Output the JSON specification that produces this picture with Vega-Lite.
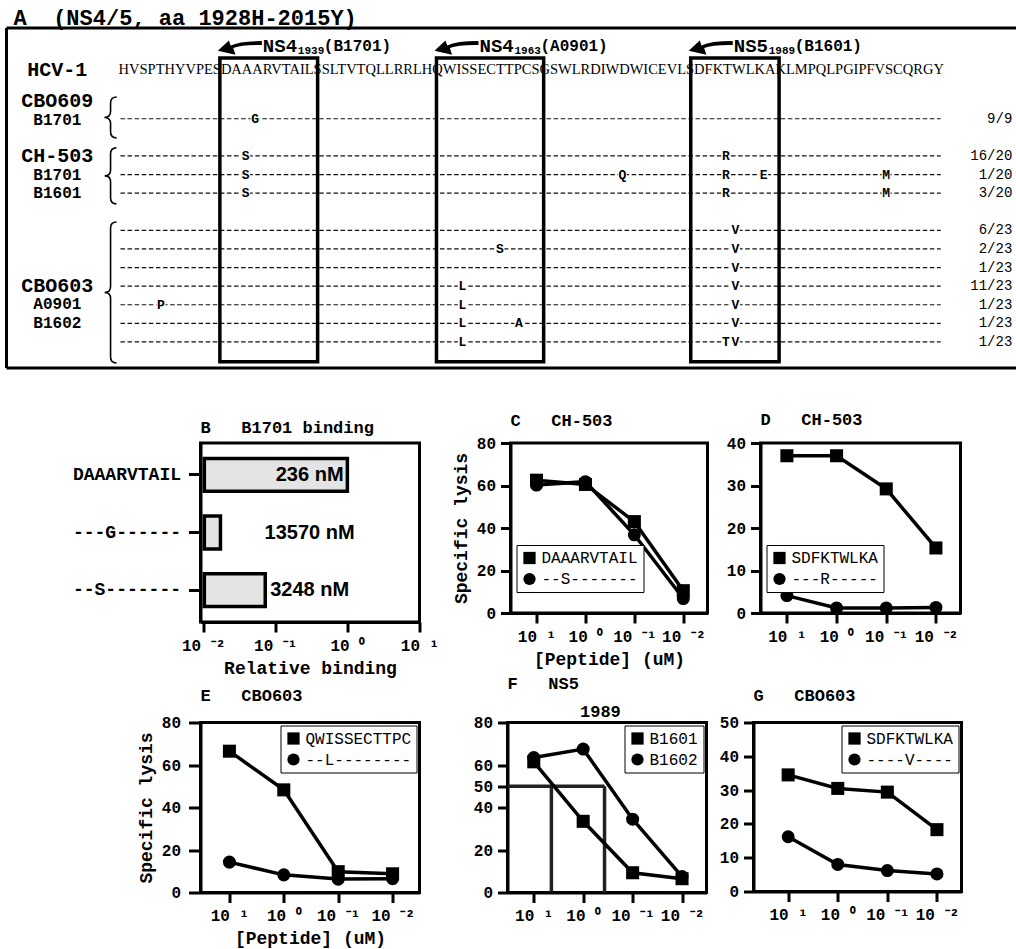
{
"$schema": "https://vega.github.io/schema/vega-lite/v6.json",
"background": "white",
"padding": {"left": 4.5, "top": 7, "right": 0, "bottom": 0},
"config": {
 "font": "Liberation Mono",
 "view": {"stroke": "black", "strokeWidth": 3},
 "axis": {"domainColor": "black", "domainWidth": 3, "tickColor": "black", "tickWidth": 3, "tickSize": 10, "labelFont": "Liberation Mono", "labelFontWeight": "bold", "labelFontSize": 16, "labelColor": "black", "labelPadding": 5, "titleFont": "Liberation Mono", "titleFontWeight": "bold", "titleFontSize": 18, "titleColor": "black", "titlePadding": 6, "grid": false, "labelFlush": false, "labelOverlap": false, "labelBound": false},
 "title": {"anchor": "start", "frame": "group", "font": "Liberation Mono", "fontWeight": "bold", "fontSize": 17, "color": "black", "offset": 6},
 "legend": {"strokeColor": "black", "fillColor": "white", "padding": 5, "labelFont": "Liberation Mono", "labelFontSize": 16, "labelColor": "black", "symbolSize": 150, "symbolStrokeWidth": 0, "rowPadding": 5, "offset": 3}
},
"datasets": {
 "seq": [{"strain": "HCV-1", "seq": "HVSPTHYVPESDAAARVTAILSSLTVTQLLRRLHQWISSECTTPCSGSWLRDIWDWICEVLSDFKTWLKAKLMPQLPGIPFVSCQRGY"}],
 "epitopes": [
  {"protein": "NS4", "number": "1939", "hla": "(B1701)", "first": 1939, "last": 1948},
  {"protein": "NS4", "number": "1963", "hla": "(A0901)", "first": 1962, "last": 1972},
  {"protein": "NS5", "number": "1989", "hla": "(B1601)", "first": 1989, "last": 1997}
 ],
 "variants": [
  {"row": 1, "freq": "9/9"}, {"row": 3, "freq": "16/20"}, {"row": 4, "freq": "1/20"}, {"row": 5, "freq": "3/20"},
  {"row": 7, "freq": "6/23"}, {"row": 8, "freq": "2/23"}, {"row": 9, "freq": "1/23"}, {"row": 10, "freq": "11/23"},
  {"row": 11, "freq": "1/23"}, {"row": 12, "freq": "1/23"}, {"row": 13, "freq": "1/23"}
 ],
 "mutations": [
  {"row": 1, "res": 1942, "aa": "G"},
  {"row": 3, "res": 1941, "aa": "S"}, {"row": 3, "res": 1992, "aa": "R"},
  {"row": 4, "res": 1941, "aa": "S"}, {"row": 4, "res": 1981, "aa": "Q"}, {"row": 4, "res": 1992, "aa": "R"}, {"row": 4, "res": 1996, "aa": "E"}, {"row": 4, "res": 2009, "aa": "M"},
  {"row": 5, "res": 1941, "aa": "S"}, {"row": 5, "res": 1992, "aa": "R"}, {"row": 5, "res": 2009, "aa": "M"},
  {"row": 7, "res": 1993, "aa": "V"},
  {"row": 8, "res": 1968, "aa": "S"}, {"row": 8, "res": 1993, "aa": "V"},
  {"row": 9, "res": 1993, "aa": "V"},
  {"row": 10, "res": 1964, "aa": "L"}, {"row": 10, "res": 1993, "aa": "V"},
  {"row": 11, "res": 1932, "aa": "P"}, {"row": 11, "res": 1964, "aa": "L"}, {"row": 11, "res": 1993, "aa": "V"},
  {"row": 12, "res": 1964, "aa": "L"}, {"row": 12, "res": 1970, "aa": "A"}, {"row": 12, "res": 1993, "aa": "V"},
  {"row": 13, "res": 1964, "aa": "L"}, {"row": 13, "res": 1992, "aa": "T"}, {"row": 13, "res": 1993, "aa": "V"}
 ],
 "patients": [{"patient": "CBO609", "row": 0.05}, {"patient": "CH-503", "row": 3}, {"patient": "CBO603", "row": 10}],
 "alleles": [{"allele": "B1701", "row": 1.05}, {"allele": "B1701", "row": 4}, {"allele": "B1601", "row": 5}, {"allele": "A0901", "row": 10.98}, {"allele": "B1602", "row": 11.98}],
 "binding": [
  {"peptide": "DAAARVTAIL", "binding": 1, "label": "236 nM"},
  {"peptide": "---G------", "binding": 0.0174, "label": "13570 nM"},
  {"peptide": "--S-------", "binding": 0.0727, "label": "3248 nM"}
 ],
 "C": [
  {"series": "DAAARVTAIL", "conc": 10, "lysis": 62.5}, {"series": "DAAARVTAIL", "conc": 1, "lysis": 60.5}, {"series": "DAAARVTAIL", "conc": 0.1, "lysis": 43}, {"series": "DAAARVTAIL", "conc": 0.01, "lysis": 10.5},
  {"series": "--S-------", "conc": 10, "lysis": 60.2}, {"series": "--S-------", "conc": 1, "lysis": 61.8}, {"series": "--S-------", "conc": 0.1, "lysis": 36.8}, {"series": "--S-------", "conc": 0.01, "lysis": 6.8}
 ],
 "D": [
  {"series": "SDFKTWLKA", "conc": 10, "lysis": 37}, {"series": "SDFKTWLKA", "conc": 1, "lysis": 37}, {"series": "SDFKTWLKA", "conc": 0.1, "lysis": 29.2}, {"series": "SDFKTWLKA", "conc": 0.01, "lysis": 15.3},
  {"series": "---R-----", "conc": 10, "lysis": 4.1}, {"series": "---R-----", "conc": 1, "lysis": 1.2}, {"series": "---R-----", "conc": 0.1, "lysis": 1.2}, {"series": "---R-----", "conc": 0.01, "lysis": 1.3}
 ],
 "E": [
  {"series": "QWISSECTTPC", "conc": 10, "lysis": 66.5}, {"series": "QWISSECTTPC", "conc": 1, "lysis": 48.3}, {"series": "QWISSECTTPC", "conc": 0.1, "lysis": 9.8}, {"series": "QWISSECTTPC", "conc": 0.01, "lysis": 8.8},
  {"series": "--L--------", "conc": 10, "lysis": 14.3}, {"series": "--L--------", "conc": 1, "lysis": 8.3}, {"series": "--L--------", "conc": 0.1, "lysis": 6.3}, {"series": "--L--------", "conc": 0.01, "lysis": 6.5}
 ],
 "F": [
  {"series": "B1601", "conc": 10, "lysis": 61.5}, {"series": "B1601", "conc": 1, "lysis": 33.5}, {"series": "B1601", "conc": 0.1, "lysis": 9.3}, {"series": "B1601", "conc": 0.01, "lysis": 6.5},
  {"series": "B1602", "conc": 10, "lysis": 63.5}, {"series": "B1602", "conc": 1, "lysis": 67.5}, {"series": "B1602", "conc": 0.1, "lysis": 34.5}, {"series": "B1602", "conc": 0.01, "lysis": 7.5}
 ],
 "G": [
  {"series": "SDFKTWLKA", "conc": 10, "lysis": 34.5}, {"series": "SDFKTWLKA", "conc": 1, "lysis": 30.5}, {"series": "SDFKTWLKA", "conc": 0.1, "lysis": 29.4}, {"series": "SDFKTWLKA", "conc": 0.01, "lysis": 18.3},
  {"series": "----V----", "conc": 10, "lysis": 16.2}, {"series": "----V----", "conc": 1, "lysis": 8}, {"series": "----V----", "conc": 0.1, "lysis": 6.2}, {"series": "----V----", "conc": 0.01, "lysis": 5.2}
 ],
 "ic50": [{"series": "B1601", "conc": 4.4, "lysis": 50}, {"series": "B1602", "conc": 0.37, "lysis": 50}],
 "sub": [{"epitope": "NS5", "number": "1989"}]
},
"bounds": "flush",
"spacing": 75,
"resolve": {"scale": {"shape": "independent"}, "legend": {"shape": "independent"}},
"vconcat": [
 {
  "width": 760, "height": 340,
  "view": {"stroke": null},
  "layer": [
   {"data": {"name": "seq"}, "mark": {"type": "rule", "color": "black", "strokeWidth": 3},
    "encoding": {"x": {"datum": 1915.6, "type": "quantitative", "scale": {"domain": [1936.2, 2016.9], "nice": false, "zero": false}, "axis": null}, "x2": {"datum": 2022.8},
                 "y": {"datum": -3.88, "type": "quantitative", "scale": {"domain": [-3.88, 14.4], "reverse": true, "nice": false, "zero": false}, "axis": null}}},
   {"data": {"name": "seq"}, "mark": {"type": "rule", "color": "black", "strokeWidth": 3},
    "encoding": {"x": {"datum": 1915.6, "type": "quantitative", "scale": {"domain": [1936.2, 2016.9], "nice": false, "zero": false}, "axis": null}, "x2": {"datum": 2022.8},
                 "y": {"datum": 14.4, "type": "quantitative", "scale": {"domain": [-3.88, 14.4], "reverse": true, "nice": false, "zero": false}, "axis": null}}},
   {"data": {"name": "seq"}, "mark": {"type": "rule", "color": "black", "strokeWidth": 3},
    "encoding": {"x": {"datum": 1915.6, "type": "quantitative", "scale": {"domain": [1936.2, 2016.9], "nice": false, "zero": false}, "axis": null},
                 "y": {"datum": -3.88, "type": "quantitative", "scale": {"domain": [-3.88, 14.4], "reverse": true, "nice": false, "zero": false}, "axis": null}, "y2": {"datum": 14.4}}},
   {"data": {"name": "variants"}, "mark": {"type": "rule", "color": "#111111", "strokeWidth": 1.2, "strokeDash": [4.5, 2.6]},
    "encoding": {"x": {"datum": 1927.7, "type": "quantitative", "scale": {"domain": [1936.2, 2016.9], "nice": false, "zero": false}, "axis": null}, "x2": {"datum": 2014.8},
                 "y": {"field": "row", "type": "quantitative", "scale": {"domain": [-3.88, 14.4], "reverse": true, "nice": false, "zero": false}, "axis": null}}},
   {"data": {"name": "mutations"}, "mark": {"type": "point", "shape": "square", "filled": true, "color": "white", "opacity": 1, "size": 80},
    "encoding": {"x": {"field": "res", "type": "quantitative", "scale": {"domain": [1936.2, 2016.9], "nice": false, "zero": false}, "axis": null},
                 "y": {"field": "row", "type": "quantitative", "scale": {"domain": [-3.88, 14.4], "reverse": true, "nice": false, "zero": false}, "axis": null}}},
   {"data": {"name": "mutations"}, "mark": {"type": "text", "font": "Liberation Mono", "fontWeight": "bold", "fontSize": 13, "color": "black", "baseline": "middle", "align": "center"},
    "encoding": {"x": {"field": "res", "type": "quantitative", "scale": {"domain": [1936.2, 2016.9], "nice": false, "zero": false}, "axis": null},
                 "y": {"field": "row", "type": "quantitative", "scale": {"domain": [-3.88, 14.4], "reverse": true, "nice": false, "zero": false}, "axis": null},
                 "text": {"field": "aa"}}},
   {"data": {"name": "epitopes"}, "mark": {"type": "rect", "fillOpacity": 0, "stroke": "black", "strokeWidth": 3.5, "xOffset": -7, "x2Offset": 6},
    "encoding": {"x": {"field": "first", "type": "quantitative", "scale": {"domain": [1936.2, 2016.9], "nice": false, "zero": false}, "axis": null}, "x2": {"field": "last"},
                 "y": {"datum": -2.27, "type": "quantitative", "scale": {"domain": [-3.88, 14.4], "reverse": true, "nice": false, "zero": false}, "axis": null}, "y2": {"datum": 14.07}}},
   {"data": {"name": "seq"}, "mark": {"type": "text", "font": "Liberation Serif", "fontSize": 14.5, "align": "left", "baseline": "middle", "color": "black"},
    "encoding": {"x": {"datum": 1927.5, "type": "quantitative", "scale": {"domain": [1936.2, 2016.9], "nice": false, "zero": false}, "axis": null},
                 "y": {"datum": -1.62, "type": "quantitative", "scale": {"domain": [-3.88, 14.4], "reverse": true, "nice": false, "zero": false}, "axis": null},
                 "text": {"field": "seq"}}},
   {"data": {"name": "seq"}, "mark": {"type": "text", "font": "Liberation Mono", "fontWeight": "bold", "fontSize": 20, "align": "center", "baseline": "middle", "color": "black"},
    "encoding": {"x": {"datum": 1921.0, "type": "quantitative", "scale": {"domain": [1936.2, 2016.9], "nice": false, "zero": false}, "axis": null},
                 "y": {"datum": -1.62, "type": "quantitative", "scale": {"domain": [-3.88, 14.4], "reverse": true, "nice": false, "zero": false}, "axis": null},
                 "text": {"field": "strain"}}},
   {"data": {"name": "epitopes"}, "mark": {"type": "point", "shape": "M1,-0.32L1,-0.14Q0.1,-0.16 -0.3,0L-0.2,0.3L-1,0.12L-0.5,-0.35L-0.42,-0.12Q0,-0.32 1,-0.32Z", "filled": true, "color": "black", "opacity": 1, "size": 1936, "xOffset": 13},
    "encoding": {"x": {"field": "first", "type": "quantitative", "scale": {"domain": [1936.2, 2016.9], "nice": false, "zero": false}, "axis": null},
                 "y": {"datum": -2.8, "type": "quantitative", "scale": {"domain": [-3.88, 14.4], "reverse": true, "nice": false, "zero": false}, "axis": null}}},
   {"data": {"name": "epitopes"}, "mark": {"type": "text", "font": "Liberation Mono", "fontWeight": "bold", "fontSize": 19, "align": "left", "baseline": "middle", "dx": 36, "color": "black"},
    "encoding": {"x": {"field": "first", "type": "quantitative", "scale": {"domain": [1936.2, 2016.9], "nice": false, "zero": false}, "axis": null},
                 "y": {"datum": -2.9, "type": "quantitative", "scale": {"domain": [-3.88, 14.4], "reverse": true, "nice": false, "zero": false}, "axis": null},
                 "text": {"field": "protein"}}},
   {"data": {"name": "epitopes"}, "mark": {"type": "text", "font": "Liberation Mono", "fontWeight": "bold", "fontSize": 11, "align": "left", "baseline": "middle", "dx": 71, "dy": 5, "color": "black"},
    "encoding": {"x": {"field": "first", "type": "quantitative", "scale": {"domain": [1936.2, 2016.9], "nice": false, "zero": false}, "axis": null},
                 "y": {"datum": -2.9, "type": "quantitative", "scale": {"domain": [-3.88, 14.4], "reverse": true, "nice": false, "zero": false}, "axis": null},
                 "text": {"field": "number"}}},
   {"data": {"name": "epitopes"}, "mark": {"type": "text", "font": "Liberation Mono", "fontWeight": "bold", "fontSize": 16, "align": "left", "baseline": "middle", "dx": 97, "color": "black"},
    "encoding": {"x": {"field": "first", "type": "quantitative", "scale": {"domain": [1936.2, 2016.9], "nice": false, "zero": false}, "axis": null},
                 "y": {"datum": -2.9, "type": "quantitative", "scale": {"domain": [-3.88, 14.4], "reverse": true, "nice": false, "zero": false}, "axis": null},
                 "text": {"field": "hla"}}},
   {"data": {"name": "patients"}, "mark": {"type": "text", "font": "Liberation Mono", "fontWeight": "bold", "fontSize": 20, "align": "center", "baseline": "middle", "color": "black"},
    "encoding": {"x": {"datum": 1921.0, "type": "quantitative", "scale": {"domain": [1936.2, 2016.9], "nice": false, "zero": false}, "axis": null},
                 "y": {"field": "row", "type": "quantitative", "scale": {"domain": [-3.88, 14.4], "reverse": true, "nice": false, "zero": false}, "axis": null},
                 "text": {"field": "patient"}}},
   {"data": {"name": "alleles"}, "mark": {"type": "text", "font": "Liberation Mono", "fontWeight": "bold", "fontSize": 16, "align": "center", "baseline": "middle", "color": "black"},
    "encoding": {"x": {"datum": 1921.0, "type": "quantitative", "scale": {"domain": [1936.2, 2016.9], "nice": false, "zero": false}, "axis": null},
                 "y": {"field": "row", "type": "quantitative", "scale": {"domain": [-3.88, 14.4], "reverse": true, "nice": false, "zero": false}, "axis": null},
                 "text": {"field": "allele"}}},
   {"data": {"name": "seq"}, "mark": {"type": "point", "shape": "M0.3,-1Q0,-1 0,-0.7L0,-0.3Q0,0 -0.3,0Q0,0 0,0.3L0,0.7Q0,1 0.3,1", "filled": false, "color": "black", "opacity": 1, "strokeWidth": 1.6, "size": 1681},
    "encoding": {"x": {"datum": 1926.65, "type": "quantitative", "scale": {"domain": [1936.2, 2016.9], "nice": false, "zero": false}, "axis": null},
                 "y": {"datum": 0.93, "type": "quantitative", "scale": {"domain": [-3.88, 14.4], "reverse": true, "nice": false, "zero": false}, "axis": null}}},
   {"data": {"name": "seq"}, "mark": {"type": "point", "shape": "M0.21,-1Q0,-1 0,-0.79L0,-0.21Q0,0 -0.21,0Q0,0 0,0.21L0,0.79Q0,1 0.21,1", "filled": false, "color": "black", "opacity": 1, "strokeWidth": 1.6, "size": 3136},
    "encoding": {"x": {"datum": 1926.65, "type": "quantitative", "scale": {"domain": [1936.2, 2016.9], "nice": false, "zero": false}, "axis": null},
                 "y": {"datum": 4.07, "type": "quantitative", "scale": {"domain": [-3.88, 14.4], "reverse": true, "nice": false, "zero": false}, "axis": null}}},
   {"data": {"name": "seq"}, "mark": {"type": "point", "shape": "M0.085,-1Q0,-1 0,-0.915L0,-0.085Q0,0 -0.085,0Q0,0 0,0.085L0,0.915Q0,1 0.085,1", "filled": false, "color": "black", "opacity": 1, "strokeWidth": 1.6, "size": 19881},
    "encoding": {"x": {"datum": 1926.65, "type": "quantitative", "scale": {"domain": [1936.2, 2016.9], "nice": false, "zero": false}, "axis": null},
                 "y": {"datum": 10.34, "type": "quantitative", "scale": {"domain": [-3.88, 14.4], "reverse": true, "nice": false, "zero": false}, "axis": null}}},
   {"data": {"name": "variants"}, "mark": {"type": "text", "font": "Liberation Mono", "fontSize": 14, "align": "right", "baseline": "middle", "color": "black"},
    "encoding": {"x": {"datum": 2022.4, "type": "quantitative", "scale": {"domain": [1936.2, 2016.9], "nice": false, "zero": false}, "axis": null},
                 "y": {"field": "row", "type": "quantitative", "scale": {"domain": [-3.88, 14.4], "reverse": true, "nice": false, "zero": false}, "axis": null},
                 "text": {"field": "freq"}}},
   {"data": {"name": "seq"}, "mark": {"type": "text", "font": "Liberation Mono", "fontWeight": "bold", "fontSize": 22, "align": "left", "baseline": "middle", "color": "black"},
    "encoding": {"x": {"datum": 1916.35, "type": "quantitative", "scale": {"domain": [1936.2, 2016.9], "nice": false, "zero": false}, "axis": null},
                 "y": {"datum": -4.4, "type": "quantitative", "scale": {"domain": [-3.88, 14.4], "reverse": true, "nice": false, "zero": false}, "axis": null},
                 "text": {"value": "A\u00a0\u00a0(NS4/5, aa 1928H-2015Y)"}}}
  ]
 },
 {
  "bounds": "flush",
  "spacing": 279.5,
  "resolve": {"scale": {"shape": "independent"}, "legend": {"shape": "independent"}},
  "vconcat": [
   {
    "bounds": "flush",
    "spacing": 91,
    "resolve": {"scale": {"shape": "independent"}, "legend": {"shape": "independent"}},
    "hconcat": [
     {
      "width": 219, "height": 179,
      "title": {"text": "B\u00a0\u00a0\u00a0B1701 binding", "offset": 6},
      "data": {"name": "binding"},
      "encoding": {
       "y": {"field": "peptide", "type": "nominal", "sort": null, "scale": {"paddingInner": 0.43, "paddingOuter": 0.27}, "axis": {"title": null, "tickSize": 12, "labelPadding": 8, "labelFontSize": 18}}
      },
      "layer": [
       {"mark": {"type": "bar", "fill": "#e4e4e4", "stroke": "black", "strokeWidth": 3.5},
        "encoding": {"x": {"field": "binding", "type": "quantitative", "scale": {"type": "log", "domain": [0.0092, 10], "nice": false}, "axis": {"values": [0.01, 0.1, 1, 10], "labelExpr": "datum.value > 5 ? '10 ¹' : datum.value > 0.5 ? '10 ⁰' : datum.value > 0.05 ? '10 ⁻¹' : '10 ⁻²'", "title": "Relative binding"}}, "x2": {"datum": 0.0104}}},
       {"mark": {"type": "text", "font": "Liberation Sans", "fontWeight": "bold", "fontSize": 20, "align": "center", "baseline": "middle", "color": "black"},
        "encoding": {"x": {"datum": 0.3, "type": "quantitative"}, "text": {"field": "label"}}}
      ]
     },
     {
      "bounds": "flush",
      "spacing": 53,
      "resolve": {"scale": {"shape": "independent"}, "legend": {"shape": "independent"}},
      "hconcat": [
       {
        "width": 197, "height": 170,
        "title": {"text": "C\u00a0\u00a0\u00a0CH-503", "offset": 5},
        "data": {"name": "C"},
        "encoding": {
         "x": {"field": "conc", "type": "quantitative", "scale": {"type": "log", "domain": [0.0032, 34], "reverse": true, "nice": false}, "axis": {"values": [10, 1, 0.1, 0.01], "labelExpr": "datum.value > 5 ? '10 ¹' : datum.value > 0.5 ? '10 ⁰' : datum.value > 0.05 ? '10 ⁻¹' : '10 ⁻²'", "title": "[Peptide] (uM)"}},
         "y": {"field": "lysis", "type": "quantitative", "scale": {"domain": [0, 80], "nice": false}, "axis": {"values": [0, 20, 40, 60, 80], "title": "Specific lysis"}}
        },
        "layer": [
         {"mark": {"type": "line", "color": "black", "strokeWidth": 3.5}, "encoding": {"detail": {"field": "series", "type": "nominal"}}},
         {"mark": {"type": "point", "filled": true, "color": "black", "opacity": 1, "size": 170},
          "encoding": {"shape": {"field": "series", "type": "nominal", "scale": {"domain": ["DAAARVTAIL", "--S-------"], "range": ["square", "circle"]}, "legend": {"title": null, "orient": "none", "legendX": 6, "legendY": 102}}}}
        ]
       },
       {
        "width": 200, "height": 170,
        "title": {"text": "D\u00a0\u00a0\u00a0CH-503", "offset": 6},
        "data": {"name": "D"},
        "encoding": {
         "x": {"field": "conc", "type": "quantitative", "scale": {"type": "log", "domain": [0.0032, 34], "reverse": true, "nice": false}, "axis": {"values": [10, 1, 0.1, 0.01], "labelExpr": "datum.value > 5 ? '10 ¹' : datum.value > 0.5 ? '10 ⁰' : datum.value > 0.05 ? '10 ⁻¹' : '10 ⁻²'", "title": null}},
         "y": {"field": "lysis", "type": "quantitative", "scale": {"domain": [0, 40], "nice": false}, "axis": {"values": [0, 10, 20, 30, 40], "title": null}}
        },
        "layer": [
         {"mark": {"type": "line", "color": "black", "strokeWidth": 3.5}, "encoding": {"detail": {"field": "series", "type": "nominal"}}},
         {"mark": {"type": "point", "filled": true, "color": "black", "opacity": 1, "size": 170},
          "encoding": {"shape": {"field": "series", "type": "nominal", "scale": {"domain": ["SDFKTWLKA", "---R-----"], "range": ["square", "circle"]}, "legend": {"title": null, "orient": "none", "legendX": 6, "legendY": 102}}}}
        ]
       }
      ]
     }
    ]
   },
   {
    "bounds": "flush",
    "spacing": 88,
    "resolve": {"scale": {"shape": "independent"}, "legend": {"shape": "independent"}},
    "hconcat": [
     {
      "width": 219, "height": 170,
      "title": {"text": "E\u00a0\u00a0\u00a0CBO603", "offset": 10},
      "data": {"name": "E"},
      "encoding": {
       "x": {"field": "conc", "type": "quantitative", "scale": {"type": "log", "domain": [0.0032, 34], "reverse": true, "nice": false}, "axis": {"values": [10, 1, 0.1, 0.01], "labelExpr": "datum.value > 5 ? '10 ¹' : datum.value > 0.5 ? '10 ⁰' : datum.value > 0.05 ? '10 ⁻¹' : '10 ⁻²'", "title": "[Peptide] (uM)"}},
       "y": {"field": "lysis", "type": "quantitative", "scale": {"domain": [0, 80], "nice": false}, "axis": {"values": [0, 20, 40, 60, 80], "title": "Specific lysis", "tickSize": 12, "labelPadding": 8}}
      },
      "layer": [
       {"mark": {"type": "line", "color": "black", "strokeWidth": 3.5}, "encoding": {"detail": {"field": "series", "type": "nominal"}}},
       {"mark": {"type": "point", "filled": true, "color": "black", "opacity": 1, "size": 170},
        "encoding": {"shape": {"field": "series", "type": "nominal", "scale": {"domain": ["QWISSECTTPC", "--L--------"], "range": ["square", "circle"]}, "legend": {"title": null, "orient": "top-right"}}}}
      ]
     },
     {
      "bounds": "flush",
      "spacing": 47,
      "resolve": {"scale": {"shape": "independent"}, "legend": {"shape": "independent"}},
      "hconcat": [
       {
        "width": 199, "height": 170,
        "title": {"text": "F\u00a0\u00a0\u00a0NS5", "offset": 10},
        "layer": [
         {"data": {"name": "ic50"}, "mark": {"type": "rule", "color": "#222222", "strokeWidth": 3.5},
          "encoding": {"x": {"field": "conc", "type": "quantitative", "scale": {"type": "log", "domain": [0.0032, 34], "reverse": true, "nice": false}, "axis": {"values": [10, 1, 0.1, 0.01], "labelExpr": "datum.value > 5 ? '10 ¹' : datum.value > 0.5 ? '10 ⁰' : datum.value > 0.05 ? '10 ⁻¹' : '10 ⁻²'", "title": null}},
                       "y": {"field": "lysis", "type": "quantitative", "scale": {"domain": [0, 80], "nice": false}, "axis": {"values": [0, 20, 40, 50, 60, 80], "title": null}},
                       "y2": {"datum": 0}}},
         {"data": {"name": "ic50"}, "transform": [{"filter": "datum.series == 'B1602'"}], "mark": {"type": "rule", "color": "#222222", "strokeWidth": 3.5},
          "encoding": {"x": {"field": "conc", "type": "quantitative", "scale": {"type": "log", "domain": [0.0032, 34], "reverse": true, "nice": false}, "axis": {"values": [10, 1, 0.1, 0.01], "labelExpr": "datum.value > 5 ? '10 ¹' : datum.value > 0.5 ? '10 ⁰' : datum.value > 0.05 ? '10 ⁻¹' : '10 ⁻²'", "title": null}},
                       "x2": {"datum": 34},
                       "y": {"field": "lysis", "type": "quantitative", "scale": {"domain": [0, 80], "nice": false}, "axis": {"values": [0, 20, 40, 50, 60, 80], "title": null}}}},
         {"data": {"name": "sub"}, "mark": {"type": "text", "font": "Liberation Mono", "fontWeight": "bold", "fontSize": 17, "align": "left", "baseline": "bottom", "dy": -2, "color": "black"},
          "encoding": {"x": {"datum": 1.16, "type": "quantitative", "scale": {"type": "log", "domain": [0.0032, 34], "reverse": true, "nice": false}, "axis": {"values": [10, 1, 0.1, 0.01], "labelExpr": "datum.value > 5 ? '10 ¹' : datum.value > 0.5 ? '10 ⁰' : datum.value > 0.05 ? '10 ⁻¹' : '10 ⁻²'", "title": null}},
                       "y": {"datum": 80, "type": "quantitative", "scale": {"domain": [0, 80], "nice": false}, "axis": {"values": [0, 20, 40, 50, 60, 80], "title": null}},
                       "text": {"field": "number"}}},
         {"data": {"name": "F"}, "mark": {"type": "line", "color": "black", "strokeWidth": 3.5},
          "encoding": {"x": {"field": "conc", "type": "quantitative", "scale": {"type": "log", "domain": [0.0032, 34], "reverse": true, "nice": false}, "axis": {"values": [10, 1, 0.1, 0.01], "labelExpr": "datum.value > 5 ? '10 ¹' : datum.value > 0.5 ? '10 ⁰' : datum.value > 0.05 ? '10 ⁻¹' : '10 ⁻²'", "title": null}},
                       "y": {"field": "lysis", "type": "quantitative", "scale": {"domain": [0, 80], "nice": false}, "axis": {"values": [0, 20, 40, 50, 60, 80], "title": null}},
                       "detail": {"field": "series", "type": "nominal"}}},
         {"data": {"name": "F"}, "mark": {"type": "point", "filled": true, "color": "black", "opacity": 1, "size": 170},
          "encoding": {"x": {"field": "conc", "type": "quantitative", "scale": {"type": "log", "domain": [0.0032, 34], "reverse": true, "nice": false}, "axis": {"values": [10, 1, 0.1, 0.01], "labelExpr": "datum.value > 5 ? '10 ¹' : datum.value > 0.5 ? '10 ⁰' : datum.value > 0.05 ? '10 ⁻¹' : '10 ⁻²'", "title": null}},
                       "y": {"field": "lysis", "type": "quantitative", "scale": {"domain": [0, 80], "nice": false}, "axis": {"values": [0, 20, 40, 50, 60, 80], "title": null}},
                       "shape": {"field": "series", "type": "nominal", "scale": {"domain": ["B1601", "B1602"], "range": ["square", "circle"]}, "legend": {"title": null, "orient": "top-right"}}}}
        ]
       },
       {
        "width": 208, "height": 169,
        "title": {"text": "G\u00a0\u00a0\u00a0CBO603", "offset": 10},
        "data": {"name": "G"},
        "encoding": {
         "x": {"field": "conc", "type": "quantitative", "scale": {"type": "log", "domain": [0.0032, 50], "reverse": true, "nice": false}, "axis": {"values": [10, 1, 0.1, 0.01], "labelExpr": "datum.value > 5 ? '10 ¹' : datum.value > 0.5 ? '10 ⁰' : datum.value > 0.05 ? '10 ⁻¹' : '10 ⁻²'", "title": null}},
         "y": {"field": "lysis", "type": "quantitative", "scale": {"domain": [0, 50], "nice": false}, "axis": {"values": [0, 10, 20, 30, 40, 50], "title": null}}
        },
        "layer": [
         {"mark": {"type": "line", "color": "black", "strokeWidth": 3.5}, "encoding": {"detail": {"field": "series", "type": "nominal"}}},
         {"mark": {"type": "point", "filled": true, "color": "black", "opacity": 1, "size": 170},
          "encoding": {"shape": {"field": "series", "type": "nominal", "scale": {"domain": ["SDFKTWLKA", "----V----"], "range": ["square", "circle"]}, "legend": {"title": null, "orient": "top-right"}}}}
        ]
       }
      ]
     }
    ]
   }
  ]
 }
]
}
